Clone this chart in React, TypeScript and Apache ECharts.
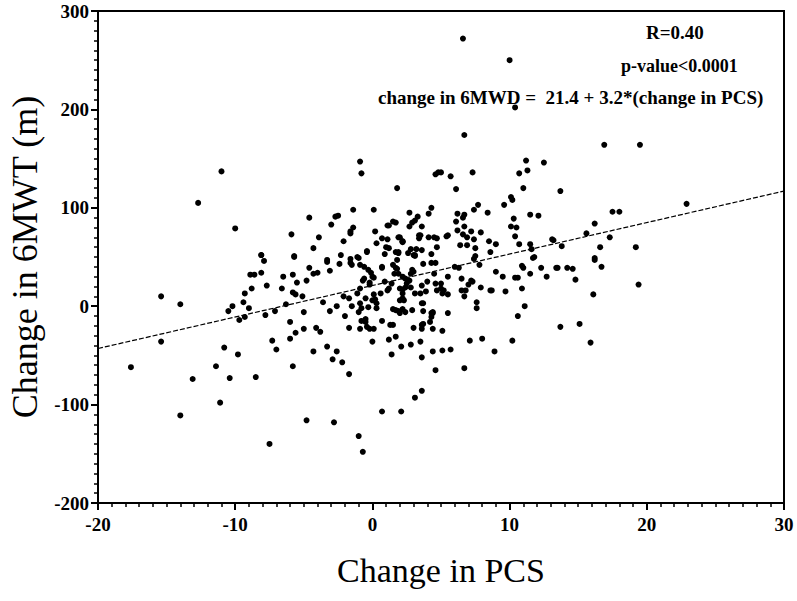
import React, { useEffect, useRef } from "react";
import * as echarts from "echarts";

// Change in PCS (x) vs change in 6MWT (y)
const highPoints: number[][] = [
  [-11.0, 137], [-0.9, 147], [-0.8, 135], [1.8, 120], [4.6, 134], [4.8, 136], [6.6, 272], [10.0, 250],
  [10.4, 202], [6.7, 174], [16.9, 164], [19.5, 164], [12.5, 146], [11.2, 148], [11.3, 138], [10.7, 135],
  [5.0, 136], [5.7, 132], [7.3, 136], [6.1, 119], [11.0, 120], [13.7, 117], [10.1, 111], [10.2, 108],
  [9.6, 103], [7.7, 103], [4.3, 100], [-12.7, 105], [22.9, 104],
];

const upperPoints: number[][] = [
  [-10.0, 79], [-4.6, 90], [-5.9, 73], [-3.9, 70], [-4.3, 59], [-3.0, 83], [-2.7, 91], [-2.5, 92],
  [-1.4, 98], [0.1, 98], [-1.6, 76], [-1.4, 80], [-1.6, 74], [-2.1, 66], [0.2, 76], [0.3, 64],
  [-0.4, 56], [1.1, 82], [1.7, 85], [0.7, 69], [1.1, 68], [1.0, 60], [1.2, 59], [1.9, 70],
  [2.2, 66], [1.9, 55], [2.7, 95], [2.9, 85], [2.7, 81], [3.1, 87], [3.3, 91], [3.6, 81],
  [3.4, 72], [3.4, 69], [4.1, 94], [4.1, 70], [4.5, 70], [4.7, 60], [2.8, 58], [3.6, 57],
  [3.1, 52], [4.3, 53], [-2.3, 52], [-1.6, 48], [-1.1, 50], [-5.7, 51], [-8.1, 52], [-3.3, 47],
  [7.4, 98], [6.7, 93], [6.6, 90], [6.2, 94], [8.4, 95], [11.5, 93], [12.1, 92], [10.3, 89],
  [10.1, 81], [10.5, 80], [6.1, 86], [6.2, 77], [6.6, 73], [6.9, 70], [5.4, 71], [4.7, 69],
  [7.9, 75], [7.4, 68], [7.5, 59], [6.9, 62], [8.5, 66], [8.6, 55], [9.0, 63], [10.4, 71],
  [10.7, 63], [11.5, 63], [11.6, 58], [13.1, 68], [13.2, 67], [13.8, 61], [15.6, 74], [16.2, 84],
  [17.3, 70], [16.6, 60], [17.5, 96], [18.0, 96], [19.2, 60], [11.8, 50], [16.2, 49], [1.5, 86],
  [1.2, 82], [2.0, 70], [3.5, 72], [5.5, 72], [6.7, 81], [7.2, 76], [6.4, 62], [2.2, 65],
  [3.0, 52], [3.2, 58], [7.5, 51], [-0.4, 55], [0.9, 53], [1.7, 55], [2.2, 66],
];

const midLeftPoints: number[][] = [
  [-15.4, 10], [-14.0, 2], [-10.5, -5], [-10.2, 0], [-9.7, -14], [-9.3, -11], [-9.0, -2], [-9.4, 4],
  [-9.3, 13], [-8.8, 18], [-8.9, 32], [-8.6, 32], [-8.1, 34], [-8.1, 52], [-7.9, 46], [-7.7, 21],
  [-7.8, -9], [-7.1, -5], [-6.6, 18], [-6.5, 30], [-6.0, -16], [-6.3, 2], [-5.8, 32], [-5.7, 50],
  [-5.8, 14], [-5.6, 12], [-5.5, 24], [-5.0, -6], [-5.1, 10], [-4.8, 26], [-4.6, 39], [-4.3, 33],
  [-4.0, 34], [-3.6, 4], [-3.1, -5], [-3.3, 45], [-3.1, 36], [-2.4, 43], [-2.6, 0], [-2.0, -10],
  [-1.7, -22], [-2.1, 10], [-1.7, 8], [-1.5, 0], [-1.6, 44], [-1.5, 42], [-1.0, 49], [-1.1, 13],
  [-0.9, 3], [-1.0, -6], [-0.8, -2], [-0.9, 42], [-0.3, 37], [-0.2, 24], [-0.1, 34], [0.0, 30],
  [-0.7, 26], [-0.8, -15], [-0.5, -16], [-0.4, -21], [-0.2, -23], [-0.9, -23], [-0.5, -13], [0.1, -23],
  [0.0, -36], [0.1, 12], [0.2, 7], [0.3, 3], [0.3, -2], [-0.3, -1], [0.7, 39], [-0.6, 40],
  [-0.9, 18], [-0.5, 8], [0.0, 6], [-0.6, 28], [-0.2, 22], [0.1, 29],
];

const midRightPoints: number[][] = [
  [1.2, 18], [1.4, 23], [1.5, -19], [1.6, 33], [1.7, 39], [0.7, -15], [1.5, -3], [1.9, -5],
  [2.2, -3], [2.4, -6], [2.2, 8], [2.0, 6], [2.2, 17], [2.4, 19], [1.8, 38], [1.9, 33],
  [2.2, 30], [1.8, 47], [1.9, 54], [2.7, 26], [2.8, 19], [3.1, 13], [3.0, -22], [3.6, -19],
  [3.6, 21], [3.7, 3], [3.7, -5], [4.3, -7], [4.3, -11], [4.4, -6], [4.4, -23], [4.3, 44],
  [4.5, 33], [4.0, 25], [3.9, 15], [4.7, 16], [4.6, 23], [2.9, 37], [3.1, 51], [3.7, 43],
  [2.6, 54], [0.9, 25], [0.6, 13], [1.1, 16], [2.0, 18], [2.2, 13], [2.3, 6], [1.7, -4],
  [2.0, -7], [3.5, 13], [3.6, 3], [2.9, -4], [4.2, -16], [3.7, -18], [3.6, -23], [1.3, -19],
  [2.5, 23], [2.4, 28], [0.7, 40], [1.5, 42], [2.8, 33], [3.0, 35], [7.2, 26], [7.3, 25],
  [7.0, 22], [6.5, 28], [6.5, 16], [6.7, 10], [6.3, 39], [5.5, 30], [5.5, 12], [5.5, -7],
  [5.1, -25], [4.4, -7], [4.6, 44], [5.0, 23], [5.2, 16], [5.1, 13], [5.0, 18], [7.6, 4],
  [7.6, -2], [8.6, 16], [7.9, 19], [7.8, 42], [7.4, 48], [9.0, 35], [9.5, 30], [9.7, 15],
  [10.6, 29], [10.4, 29], [10.9, 41], [11.0, 39], [10.9, 18], [11.1, 0], [10.6, -10], [11.5, 33],
  [11.7, 49], [12.3, 39], [12.7, 30], [13.4, 39], [13.5, 39], [14.2, 39], [14.6, 38], [14.8, 27],
  [15.1, -18], [13.7, -21], [16.2, 47], [16.7, 40], [16.1, 12], [15.9, -37], [19.4, 22], [6.8, 16],
  [6.0, 40], [8.7, 16],
];

const lowPoints: number[][] = [
  [-17.6, -62], [-15.4, -36], [-13.1, -74], [-14.0, -111], [-11.4, -61], [-10.8, -42], [-9.8, -49], [-11.1, -98],
  [-10.4, -73], [-8.5, -72], [-7.5, -140], [-7.3, -35], [-7.0, -44], [-5.6, -27], [-6.0, -33], [-5.8, -61],
  [-5.0, -23], [-4.3, -46], [-4.8, -116], [-4.1, -22], [-3.8, -26], [-3.3, -41], [-2.9, -54], [-2.6, -46],
  [-2.8, -118], [-2.2, -57], [-1.7, -69], [-1.0, -132], [-0.7, -148], [0.7, -107], [2.1, -107], [1.2, -34],
  [1.4, -49], [1.7, -31], [2.1, -41], [2.8, -39], [3.5, -36], [3.6, -52], [4.4, -46], [3.1, -93],
  [3.6, -86], [4.6, -65], [5.1, -45], [5.7, -44], [6.7, -63], [7.1, -35], [8.0, -33], [8.9, -46],
  [10.2, -35],
];

const fitX = [-20, 30];
const fitY = [-43, 117];

const xTicks = { min: -20, max: 30, interval: 10 };
const yTicks = { min: -200, max: 300, interval: 100 };

const annotations = [
  "R=0.40",
  "p-value<0.0001",
  "change in 6MWD =  21.4 + 3.2*(change in PCS)",
];

const xTitle = "Change in PCS";
const yTitle = "Change in 6MWT (m)";

export default function App() {
  const ref = useRef<HTMLDivElement>(null);
  useEffect(() => {
    if (!ref.current) return;
    const chart = echarts.init(ref.current, undefined, { renderer: "svg" });
    const points = [...highPoints, ...upperPoints, ...midLeftPoints, ...midRightPoints, ...lowPoints];
    const serif = "'Liberation Serif', 'Times New Roman', serif";
    const axisCommon = {
      axisLine: { show: true, onZero: false, lineStyle: { color: "#000", width: 2 } },
      axisTick: { show: true, length: 7, lineStyle: { color: "#000", width: 2 } },
      minorTick: { show: true, splitNumber: 10, length: 4, lineStyle: { color: "#000", width: 1.5 } },
      splitLine: { show: false },
      axisLabel: { color: "#000", fontFamily: serif, fontWeight: "bold", fontSize: 19 },
      nameTextStyle: { color: "#000", fontFamily: serif, fontSize: 34 },
    };
    chart.setOption({
      animation: false,
      backgroundColor: "#fff",
      grid: {
        left: 98, top: 11, right: 13, bottom: 98,
        show: true, borderColor: "#000", borderWidth: 2,
        containLabel: false, outerBoundsMode: "none",
      },
      xAxis: {
        type: "value",
        ...xTicks,
        ...axisCommon,
        axisLabel: { ...axisCommon.axisLabel, margin: 12 },
        name: xTitle,
        nameLocation: "middle",
        nameGap: 50,
      },
      yAxis: {
        type: "value",
        ...yTicks,
        ...axisCommon,
        axisLabel: { ...axisCommon.axisLabel, margin: 9 },
        name: yTitle,
        nameLocation: "middle",
        nameGap: 52,
        nameTextStyle: { ...axisCommon.nameTextStyle, fontSize: 36 },
      },
      graphic: [
        { type: "text", x: 646, y: 32, style: { text: annotations[0], font: `bold 19px ${serif}`, fill: "#000", verticalAlign: "middle" } },
        { type: "text", x: 621, y: 66, style: { text: annotations[1], font: `bold 18px ${serif}`, fill: "#000", verticalAlign: "middle" } },
        { type: "text", x: 378, y: 97, style: { text: annotations[2], font: `bold 19px ${serif}`, fill: "#000", verticalAlign: "middle" } },
      ],
      series: [
        {
          type: "line",
          data: fitX.map((x, i) => [x, fitY[i]]),
          symbol: "none",
          lineStyle: { color: "#000", width: 1.2, type: [5, 2] },
          z: 3,
        },
        {
          type: "scatter",
          data: points,
          symbol: "circle",
          symbolSize: 6,
          itemStyle: { color: "#000", opacity: 1 },
          z: 4,
        },
      ],
    });
    return () => chart.dispose();
  }, []);
  return <div ref={ref} style={{ position: "absolute", left: 0, top: 0, width: 797, height: 601 }} />;
}
